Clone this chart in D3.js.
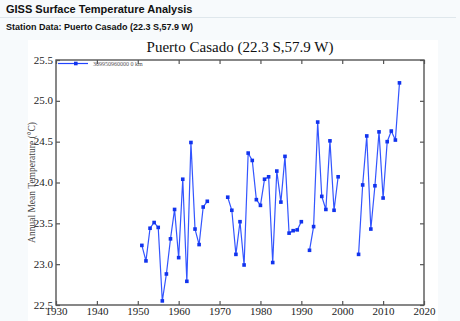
<!DOCTYPE html>
<html><head><meta charset="utf-8">
<script src="https://cdn.jsdelivr.net/npm/d3@7"></script>
<style>
html,body{margin:0;padding:0;background:#f7fafc;}
svg{display:block;}
</style></head>
<body>
<svg id="c" width="460" height="321"></svg>
<script>
const years = [1951,1952,1953,1954,1955,1956,1957,1958,1959,1960,1961,1962,1963,1964,1965,1966,1967,
  1968,1969,1970,1971,
  1972,1973,1974,1975,1976,1977,1978,1979,1980,1981,1982,1983,1984,1985,1986,1987,1988,1989,1990,
  1991,
  1992,1993,1994,1995,1996,1997,1998,1999,
  2000,2001,2002,2003,
  2004,2005,2006,2007,2008,2009,2010,2011,2012,2013,2014];
const temps = [23.23,23.04,23.44,23.51,23.45,22.55,22.88,23.31,23.67,23.08,24.04,22.79,24.49,23.43,23.24,23.70,23.77,
  null,null,null,null,
  23.82,23.66,23.12,23.52,22.99,24.36,24.27,23.79,23.72,24.04,24.07,23.02,24.14,23.76,24.32,23.38,23.41,23.42,23.52,
  null,
  23.17,23.46,24.74,23.83,23.67,24.51,23.66,24.07,
  null,null,null,null,
  23.12,23.97,24.57,23.43,23.96,24.62,23.81,24.50,24.63,24.52,25.22];
const xTicks = [1930,1940,1950,1960,1970,1980,1990,2000,2010,2020];
const yTicks = [22.5,23.0,23.5,24.0,24.5,25.0,25.5];
const pageTitle = "GISS Surface Temperature Analysis";
const subTitle = "Station Data: Puerto Casado (22.3 S,57.9 W)";
const chartTitle = "Puerto Casado (22.3 S,57.9 W)";
const legendLabel = "309950960000 0 km";
const yLabel = "Annual Mean Temperature (°C)";

const svg = d3.select("#c");
const L=56, R=424, T=60, B=305;
const x = d3.scaleLinear().domain([1930,2020]).range([L,R]);
const y = d3.scaleLinear().domain([22.5,25.5]).range([B,T]);

// header
svg.append("text").attr("x",6).attr("y",13).attr("font-family","Liberation Sans, Arial, sans-serif")
  .attr("font-weight","bold").attr("font-size",11).attr("fill","#111").text(pageTitle);
svg.append("line").attr("x1",0).attr("x2",456).attr("y1",17.5).attr("y2",17.5).attr("stroke","#dfe7ec").attr("stroke-width",1);
svg.append("text").attr("x",6).attr("y",30).attr("font-family","Liberation Sans, Arial, sans-serif")
  .attr("font-weight","bold").attr("font-size",9).attr("fill","#111").text(subTitle);

// chart image background
svg.append("rect").attr("x",28).attr("y",40).attr("width",410).attr("height",281).attr("fill","#fff");

svg.append("text").attr("x",240).attr("y",52).attr("text-anchor","middle")
  .attr("font-family","Liberation Serif, Times New Roman, serif").attr("font-size",15).attr("fill","#111").text(chartTitle);

// frame
const axc = "#555";
svg.append("rect").attr("x",L).attr("y",T).attr("width",R-L).attr("height",B-T)
  .attr("fill","none").attr("stroke",axc).attr("stroke-width",1.4);

// axes via d3
const fontSerif = "Liberation Serif, Times New Roman, serif";
const gx = svg.append("g").attr("transform",`translate(0,${B})`)
  .call(d3.axisBottom(x).tickValues(xTicks).tickFormat(d3.format("d")).tickSize(-4).tickPadding(3));
const gxt = svg.append("g").attr("transform",`translate(0,${T})`)
  .call(d3.axisTop(x).tickValues(xTicks).tickSize(-4).tickFormat(""));
const gy = svg.append("g").attr("transform",`translate(${L},0)`)
  .call(d3.axisLeft(y).tickValues(yTicks).tickFormat(d3.format(".1f")).tickSize(-4).tickPadding(3));
const gyr = svg.append("g").attr("transform",`translate(${R},0)`)
  .call(d3.axisRight(y).tickValues(yTicks).tickSize(-4).tickFormat(""));
[gx,gxt,gy,gyr].forEach(g=>{
  g.select(".domain").remove();
  g.selectAll(".tick line").attr("stroke",axc).attr("stroke-width",1.2);
  g.selectAll("text").attr("font-family",fontSerif).attr("font-size",11).attr("fill","#222");
});
gx.selectAll("text").attr("dy","0.62em");
gy.selectAll("text").attr("dy","0.28em");

// y label
svg.append("text").attr("transform",`translate(35,${(T+B)/2}) rotate(-90)`).attr("text-anchor","middle")
  .attr("font-family",fontSerif).attr("font-size",9.5).attr("fill","#444").text(yLabel);

// data line
const data = years.map((yr,i)=>({yr, t: temps[i]}));
const line = d3.line().defined(d=>d.t!==null).x(d=>x(d.yr)).y(d=>y(d.t));
svg.append("path").datum(data).attr("d",line).attr("fill","none").attr("stroke","#3355ff").attr("stroke-width",1.2);
svg.selectAll("rect.pt").data(data.filter(d=>d.t!==null)).enter().append("rect").attr("class","pt")
  .attr("x",d=>x(d.yr)-1.8).attr("y",d=>y(d.t)-1.8).attr("width",3.6).attr("height",3.6).attr("fill","#1133ee");

// legend
const ly = 63.5;
svg.append("line").attr("x1",58).attr("x2",88).attr("y1",ly).attr("y2",ly).attr("stroke","#2244ff").attr("stroke-width",1.2);
svg.append("rect").attr("x",74).attr("y",ly-1.8).attr("width",3.6).attr("height",3.6).attr("fill","#1133ee");
svg.append("text").attr("x",93).attr("y",ly+2).attr("font-family",fontSerif).attr("font-size",6).attr("fill","#555").text(legendLabel);
</script>
</body></html>
